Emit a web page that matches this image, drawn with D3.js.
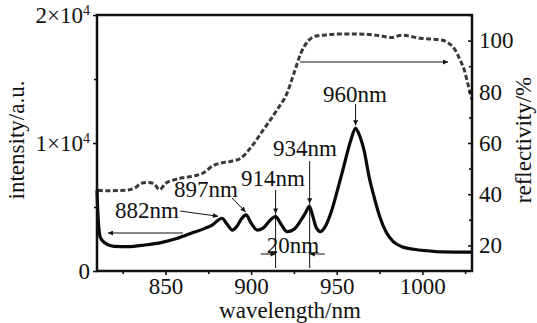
<!DOCTYPE html>
<html>
<head>
<meta charset="utf-8">
<script src="https://cdn.jsdelivr.net/npm/d3@7"></script>
<style>
  body { margin: 0; background: #fff; }
  svg text { font-family: 'Liberation Serif', 'Times New Roman', serif; fill: #111; }
</style>
</head>
<body>
<svg id="chart" width="537" height="323"></svg>
<script>
// emission spectrum (solid)
const intensityNm = [810, 810.4, 811, 812, 814.5, 820, 828, 838, 848, 857, 866, 873, 878, 881, 883, 886, 889, 892, 894.5, 897, 900, 903.5, 907, 911, 914.3, 917.5, 921, 925, 929, 932, 934, 936, 938, 940.5, 944, 947, 950, 953, 955.5, 958.3, 961, 963, 966, 969, 972, 975, 979, 983, 988, 995, 1003, 1012, 1020, 1029];
const intensityVal = [6300, 4800, 3500, 2600, 2200, 1920, 1900, 2030, 2240, 2560, 3000, 3330, 3650, 4000, 4120, 3650, 3200, 3550, 4100, 4380, 3750, 3200, 3350, 3950, 4250, 3650, 3070, 3250, 3950, 4600, 5050, 4300, 3400, 3080, 3650, 4700, 6100, 7600, 8900, 10250, 11150, 10700, 9400, 7300, 5700, 4300, 3000, 2300, 1900, 1700, 1580, 1490, 1480, 1470];

// reflectivity spectrum (dashed)
const reflNm = [810.5, 816, 822, 828, 832, 836, 840, 843, 846.5, 850, 855, 860, 865, 872, 878, 884, 888, 894, 900, 907, 915, 921, 925, 929, 933.5, 938, 945, 954, 966, 976, 982, 988, 999, 1011, 1015, 1019, 1022, 1024.5, 1027, 1029];
const reflVal = [41.5, 41.3, 41.4, 41.6, 42.4, 44.3, 44.6, 44.2, 41.8, 44.2, 45.6, 46.4, 46.9, 48.3, 51.2, 52.4, 52.8, 54.1, 58.4, 65, 72.8, 79.5, 87.2, 95, 100, 101.8, 102.3, 102.6, 102.5, 101.8, 101.2, 102.1, 100.9, 100.2, 99.2, 96.5, 92.5, 88.5, 82, 77];

const xTicks = [850, 900, 950, 1000];
const xMinor = [825, 875, 925, 975, 1025];
const leftTicks = [0, 10000, 20000];
const leftMinor = [5000, 15000];
const rightTicks = [20, 40, 60, 80, 100];
const rightMinor = [30, 50, 70, 90, 110];

const peakLabels = ["882nm", "897nm", "914nm", "934nm", "960nm"];
const peakNm = [883, 896.8, 914.3, 934.2, 961];
const peakVal = [4120, 4380, 4250, 5050, 11150];

const svg = d3.select("#chart");
const mLeft = 97, mRight = 472, mTop = 15, mBottom = 271;
const serif = "'Liberation Serif', 'Times New Roman', serif";
const fs = 23;

const x = d3.scaleLinear().domain([810, 1029]).range([mLeft, mRight]);
const yL = d3.scaleLinear().domain([0, 20000]).range([mBottom, mTop]);
const yR = d3.scaleLinear().domain([10, 110]).range([mBottom, mTop]);

// arrow marker
svg.append("defs").append("marker")
  .attr("id", "arr")
  .attr("viewBox", "0 0 10 10")
  .attr("refX", 10).attr("refY", 5)
  .attr("markerWidth", 7).attr("markerHeight", 5)
  .attr("markerUnits", "userSpaceOnUse")
  .attr("orient", "auto")
  .append("path").attr("d", "M0,0L10,5L0,10z").attr("fill", "#111");

// curves
const solid = d3.line().x((d, i) => x(intensityNm[i])).y(d => yL(d)).curve(d3.curveMonotoneX);
const dashed = d3.line().x((d, i) => x(reflNm[i])).y(d => yR(d)).curve(d3.curveMonotoneX);

svg.append("path").datum(reflVal)
  .attr("d", dashed)
  .attr("fill", "none").attr("stroke", "#3a3a3a")
  .attr("stroke-width", 3).attr("stroke-dasharray", "5,2.5");

svg.append("path").datum(intensityVal)
  .attr("d", solid)
  .attr("fill", "none").attr("stroke", "#0a0a0a")
  .attr("stroke-width", 3.2).attr("stroke-linejoin", "round");

// axes
svg.append("g").attr("transform", `translate(0,${mBottom})`)
  .call(d3.axisBottom(x).tickValues(xTicks).tickSize(4).tickPadding(3).tickFormat(d3.format("d")));
svg.append("g").attr("transform", `translate(0,${mBottom})`)
  .call(d3.axisBottom(x).tickValues(xMinor).tickSize(3).tickFormat(""));

const supFmt = d => d === 0 ? "0" : (d / 10000) + "×10";
const gl = svg.append("g").attr("transform", `translate(${mLeft},0)`)
  .call(d3.axisLeft(yL).tickValues(leftTicks).tickSize(4).tickPadding(3).tickFormat(supFmt));
gl.selectAll(".tick text").filter(d => d !== 0)
  .append("tspan").attr("dy", "-0.55em").attr("font-size", 14).text("4");
svg.append("g").attr("transform", `translate(${mLeft},0)`)
  .call(d3.axisLeft(yL).tickValues(leftMinor).tickSize(3).tickFormat(""));

svg.append("g").attr("transform", `translate(${mRight},0)`)
  .call(d3.axisRight(yR).tickValues(rightTicks).tickSize(-4).tickPadding(7));
svg.append("g").attr("transform", `translate(${mRight},0)`)
  .call(d3.axisRight(yR).tickValues(rightMinor).tickSize(-3).tickFormat(""));

svg.selectAll("g").attr("font-family", serif);
svg.selectAll(".domain").remove();
svg.selectAll(".tick line").attr("stroke", "#111").attr("stroke-width", 1.6);
svg.selectAll(".tick text").attr("font-size", fs).attr("fill", "#111");

// frame
svg.append("rect").attr("x", mLeft).attr("y", mTop)
  .attr("width", mRight - mLeft).attr("height", mBottom - mTop)
  .attr("fill", "none").attr("stroke", "#111").attr("stroke-width", 2.5);

// axis titles
const titles = svg.append("g").attr("font-family", serif).attr("font-size", fs);
titles.append("text").attr("x", 290).attr("y", 318).attr("text-anchor", "middle").text("wavelength/nm");
titles.append("text").attr("transform", "translate(24,140) rotate(-90)")
  .attr("text-anchor", "middle").text("intensity/a.u.");
titles.append("text").attr("transform", "translate(531,140) rotate(-90)")
  .attr("text-anchor", "middle").text("reflectivity/%");

// peak annotations
const ann = svg.append("g").attr("font-family", serif).attr("font-size", fs);
const line = (x1, y1, x2, y2, arrow) => {
  const l = ann.append("line").attr("x1", x1).attr("y1", y1).attr("x2", x2).attr("y2", y2)
    .attr("stroke", "#111").attr("stroke-width", 1);
  if (arrow) l.attr("marker-end", "url(#arr)");
};
const tip = i => [x(peakNm[i]), yL(peakVal[i]) - 3];

// 882nm
ann.append("text").attr("x", 147).attr("y", 218).attr("text-anchor", "middle").text(peakLabels[0]);
line(180, 211, tip(0)[0] - 4, tip(0)[1] + 1, true);
// 897nm
ann.append("text").attr("x", 206).attr("y", 197).attr("text-anchor", "middle").text(peakLabels[1]);
line(232, 198, tip(1)[0], tip(1)[1], true);
// 914nm
ann.append("text").attr("x", 273).attr("y", 186).attr("text-anchor", "middle").text(peakLabels[2]);
line(tip(2)[0], 190, tip(2)[0], tip(2)[1], true);
line(tip(2)[0], tip(2)[1], tip(2)[0], 268, false);
// 934nm
ann.append("text").attr("x", 305).attr("y", 156).attr("text-anchor", "middle").text(peakLabels[3]);
line(tip(3)[0], 161, tip(3)[0], tip(3)[1], true);
line(tip(3)[0], tip(3)[1], tip(3)[0], 268, false);
// 960nm
ann.append("text").attr("x", 355).attr("y", 102).attr("text-anchor", "middle").text(peakLabels[4]);
line(tip(4)[0], 104, tip(4)[0], tip(4)[1], true);
// 20nm spacing
ann.append("text").attr("x", 293).attr("y", 253).attr("text-anchor", "middle").text("20nm");
line(tip(2)[0] - 15, 254, tip(2)[0], 254, true);
line(tip(3)[0] + 15, 254, tip(3)[0], 254, true);

// axis-pointing arrows
line(183, 233, 108, 233, true);
line(300, 62, 448, 62, true);
</script>
</body>
</html>
